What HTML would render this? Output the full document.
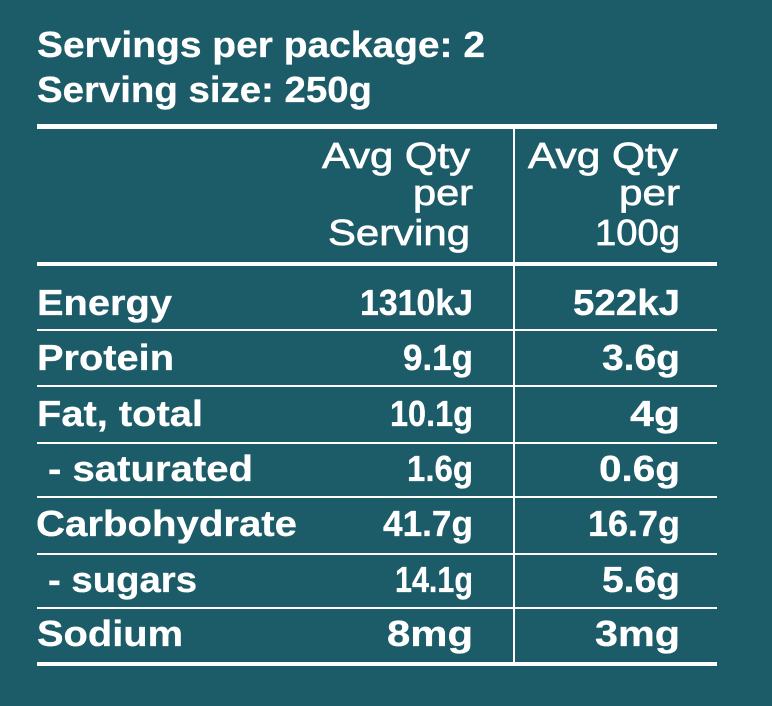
<!DOCTYPE html>
<html>
<head>
<meta charset="utf-8">
<style>
  html, body { margin: 0; padding: 0; background: #1c5b68; }
  body { width: 772px; height: 706px; overflow: hidden; }
  svg { display: block; }
  text { font-family: "Liberation Sans", "DejaVu Sans", sans-serif; fill: #ffffff; }
  .b { font-weight: bold; font-size: 36px; stroke: #ffffff; stroke-width: 0.3px; }
  .h { font-weight: normal; font-size: 36px; stroke: #ffffff; stroke-width: 0.7px; }
</style>
</head>
<body>
<svg width="772" height="706" viewBox="0 0 772 706" xmlns="http://www.w3.org/2000/svg">
  <rect x="0" y="0" width="772" height="706" fill="#1c5b68"/>

  <!-- Title -->
  <text class="b" x="37" y="57" textLength="448" lengthAdjust="spacingAndGlyphs">Servings per package: 2</text>
  <text class="b" x="37" y="102" textLength="335" lengthAdjust="spacingAndGlyphs">Serving size: 250g</text>

  <!-- Lines -->
  <rect x="37" y="124" width="680" height="5" fill="#ffffff"/>
  <rect x="37" y="262" width="680" height="4" fill="#ffffff"/>
  <rect x="37" y="329" width="680" height="2" fill="#ffffff"/>
  <rect x="37" y="385" width="680" height="2" fill="#ffffff"/>
  <rect x="37" y="442" width="680" height="2" fill="#ffffff"/>
  <rect x="37" y="496" width="680" height="2" fill="#ffffff"/>
  <rect x="37" y="553" width="680" height="2" fill="#ffffff"/>
  <rect x="37" y="607" width="680" height="2" fill="#ffffff"/>
  <rect x="37" y="662" width="680" height="4" fill="#ffffff"/>
  <rect x="513" y="129" width="2" height="533" fill="#ffffff"/>

  <!-- Header -->
  <text class="h" x="322" y="168" textLength="148" lengthAdjust="spacingAndGlyphs">Avg Qty</text>
  <text class="h" x="413" y="205" textLength="60" lengthAdjust="spacingAndGlyphs">per</text>
  <text class="h" x="328" y="245" textLength="142" lengthAdjust="spacingAndGlyphs">Serving</text>

  <text class="h" x="528" y="168" textLength="150" lengthAdjust="spacingAndGlyphs">Avg Qty</text>
  <text class="h" x="619" y="205" textLength="61" lengthAdjust="spacingAndGlyphs">per</text>
  <text class="h" x="595" y="245" textLength="85" lengthAdjust="spacingAndGlyphs">100g</text>

  <!-- Rows: labels -->
  <text class="b" x="37" y="315" textLength="135" lengthAdjust="spacingAndGlyphs">Energy</text>
  <text class="b" x="37" y="370" textLength="137" lengthAdjust="spacingAndGlyphs">Protein</text>
  <text class="b" x="37" y="426" textLength="166" lengthAdjust="spacingAndGlyphs">Fat, total</text>
  <text class="b" x="48" y="481" textLength="205" lengthAdjust="spacingAndGlyphs">- saturated</text>
  <text class="b" x="36" y="536" textLength="261" lengthAdjust="spacingAndGlyphs">Carbohydrate</text>
  <text class="b" x="48" y="592" textLength="149" lengthAdjust="spacingAndGlyphs">- sugars</text>
  <text class="b" x="37" y="646" textLength="146" lengthAdjust="spacingAndGlyphs">Sodium</text>

  <!-- Rows: per serving -->
  <text class="b" x="360" y="315" textLength="113" lengthAdjust="spacingAndGlyphs">1310kJ</text>
  <text class="b" x="403" y="370" textLength="70" lengthAdjust="spacingAndGlyphs">9.1g</text>
  <text class="b" x="390" y="426" textLength="83" lengthAdjust="spacingAndGlyphs">10.1g</text>
  <text class="b" x="407" y="481" textLength="66" lengthAdjust="spacingAndGlyphs">1.6g</text>
  <text class="b" x="383" y="536" textLength="90" lengthAdjust="spacingAndGlyphs">41.7g</text>
  <text class="b" x="395" y="592" textLength="78" lengthAdjust="spacingAndGlyphs">14.1g</text>
  <text class="b" x="387" y="646" textLength="86" lengthAdjust="spacingAndGlyphs">8mg</text>

  <!-- Rows: per 100g -->
  <text class="b" x="573" y="315" textLength="107" lengthAdjust="spacingAndGlyphs">522kJ</text>
  <text class="b" x="602" y="370" textLength="78" lengthAdjust="spacingAndGlyphs">3.6g</text>
  <text class="b" x="630" y="426" textLength="50" lengthAdjust="spacingAndGlyphs">4g</text>
  <text class="b" x="599" y="481" textLength="81" lengthAdjust="spacingAndGlyphs">0.6g</text>
  <text class="b" x="588" y="536" textLength="92" lengthAdjust="spacingAndGlyphs">16.7g</text>
  <text class="b" x="602" y="592" textLength="78" lengthAdjust="spacingAndGlyphs">5.6g</text>
  <text class="b" x="595" y="646" textLength="85" lengthAdjust="spacingAndGlyphs">3mg</text>
</svg>
</body>
</html>
